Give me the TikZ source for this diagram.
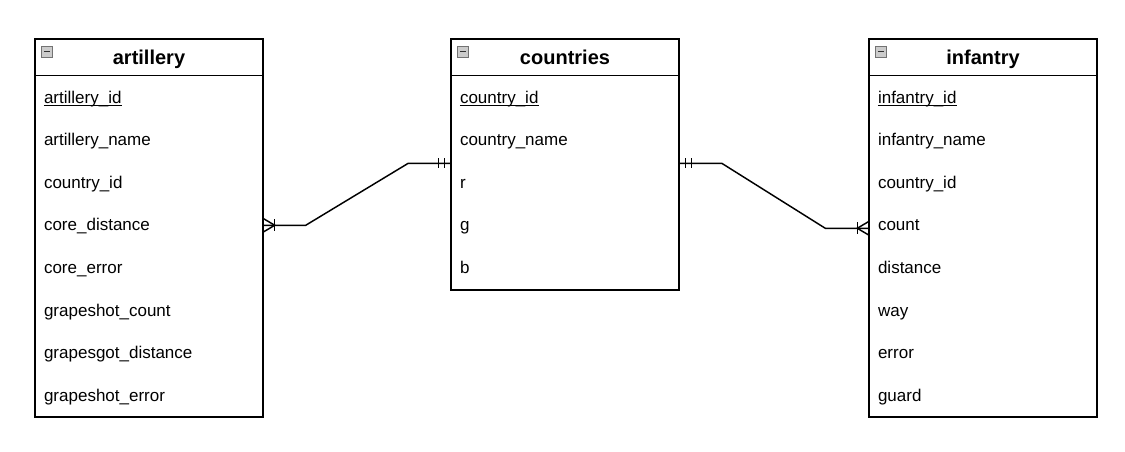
\documentclass[tikz,border=0pt]{standalone}
\usepackage{fontspec}
\setmainfont{Liberation Sans}
\usetikzlibrary{
  calc,
  positioning
}
\tikzset{
  table box/.style={
    draw, line width=1.1pt, inner sep=0pt,
    minimum width=171pt
  },
  title text/.style={
    anchor=base,
    font=\fontsize{15pt}{18pt}\selectfont\bfseries
  },
  field/.style={
    anchor=base west, inner sep=0pt,
    font=\fontsize{12.75pt}{15pt}\selectfont
  },
  minus icon/.style={
    draw=gray!90!black, fill=gray!40, line width=0.7pt,
    minimum size=8.5pt, inner sep=0pt,
    path picture={
      \draw[line width=1pt, black!80]
        ([xshift=2pt]path picture bounding box.west) --
        ([xshift=-2pt]path picture bounding box.east);
    }
  },
  er line/.style={
    line width=1.1pt, draw=black
  },
  key line/.style={
    line width=0.8pt
  },
}

\begin{document}
\begin{tikzpicture}[x=0.75pt, y=-0.75pt]
  \useasboundingbox (0,0) rectangle (1125,451);

  % artillery
  \node[table box, minimum height=283.5pt] (art) at (149,228) {};
  \draw[er line] ($(art.north west)+(0,37)$) -- ($(art.north east)+(0,37)$);
  \node[minus icon] (art-icon) at ($(art.north west)+(12.5,13.5)$) {};
  \node[title text] (art-title) at ($(art.north)+(0,26.5)$) {artillery};
  \foreach \f [count=\i] in {artillery\_id, artillery\_name, country\_id,
      core\_distance, core\_error, grapeshot\_count,
      grapesgot\_distance, grapeshot\_error}
    \node[field] (art-\i) at ($(art.north west)+(9.5,{37+(\i-0.5)*42.625+6.5})$) {\f};
  \draw[key line] ($(art-1.base west)+(0,2)$) -- ($(art-1.base east)+(0,2)$);

  % countries
  \node[table box, minimum height=188.25pt] (cty) at (565,164.5) {};
  \draw[er line] ($(cty.north west)+(0,37)$) -- ($(cty.north east)+(0,37)$);
  \node[minus icon] (cty-icon) at ($(cty.north west)+(12.5,13.5)$) {};
  \node[title text] (cty-title) at ($(cty.north)+(0,26.5)$) {countries};
  \foreach \f [count=\i] in {country\_id, country\_name, r, g, b}
    \node[field] (cty-\i) at ($(cty.north west)+(9.5,{37+(\i-0.5)*42.625+6.5})$) {\f};
  \draw[key line] ($(cty-1.base west)+(0,2)$) -- ($(cty-1.base east)+(0,2)$);

  % infantry
  \node[table box, minimum height=283.5pt] (inf) at (983,228) {};
  \draw[er line] ($(inf.north west)+(0,37)$) -- ($(inf.north east)+(0,37)$);
  \node[minus icon] (inf-icon) at ($(inf.north west)+(12.5,13.5)$) {};
  \node[title text] (inf-title) at ($(inf.north)+(0,26.5)$) {infantry};
  \foreach \f [count=\i] in {infantry\_id, infantry\_name, country\_id,
      count, distance, way, error, guard}
    \node[field] (inf-\i) at ($(inf.north west)+(9.5,{37+(\i-0.5)*42.625+6.5})$) {\f};
  \draw[key line] ($(inf-1.base west)+(0,2)$) -- ($(inf-1.base east)+(0,2)$);

  % relations
  \coordinate (art-link) at ($(art.north east)+(0,187)$);
  \coordinate (cty-left) at ($(cty.north west)+(0,125)$);
  \coordinate (cty-right) at ($(cty.north east)+(0,125)$);
  \coordinate (inf-link) at ($(inf.north west)+(0,190)$);

  \draw[er line] (art-link) -- ++(42,0) -- ($(cty-left)+(-42,0)$) -- (cty-left);
  \draw[er line] (cty-right) -- ++(42,0) -- ($(inf-link)+(-43,0)$) -- (inf-link);

  % many ends
  \draw[er line] ($(art-link)+(0,-6.5)$) -- ($(art-link)+(11,0)$) -- ($(art-link)+(0,6.5)$);
  \draw[er line] ($(art-link)+(11,-6)$) -- ($(art-link)+(11,6)$);
  \draw[er line] ($(inf-link)+(0,-6.5)$) -- ($(inf-link)+(-11,0)$) -- ($(inf-link)+(0,6.5)$);
  \draw[er line] ($(inf-link)+(-11,-6)$) -- ($(inf-link)+(-11,6)$);

  % one ends
  \foreach \dx in {6,12} {
    \draw[er line] ($(cty-left)+(-\dx,-5)$) -- ($(cty-left)+(-\dx,5)$);
    \draw[er line] ($(cty-right)+(\dx,-5)$) -- ($(cty-right)+(\dx,5)$);
  }

\end{tikzpicture}
\end{document}
